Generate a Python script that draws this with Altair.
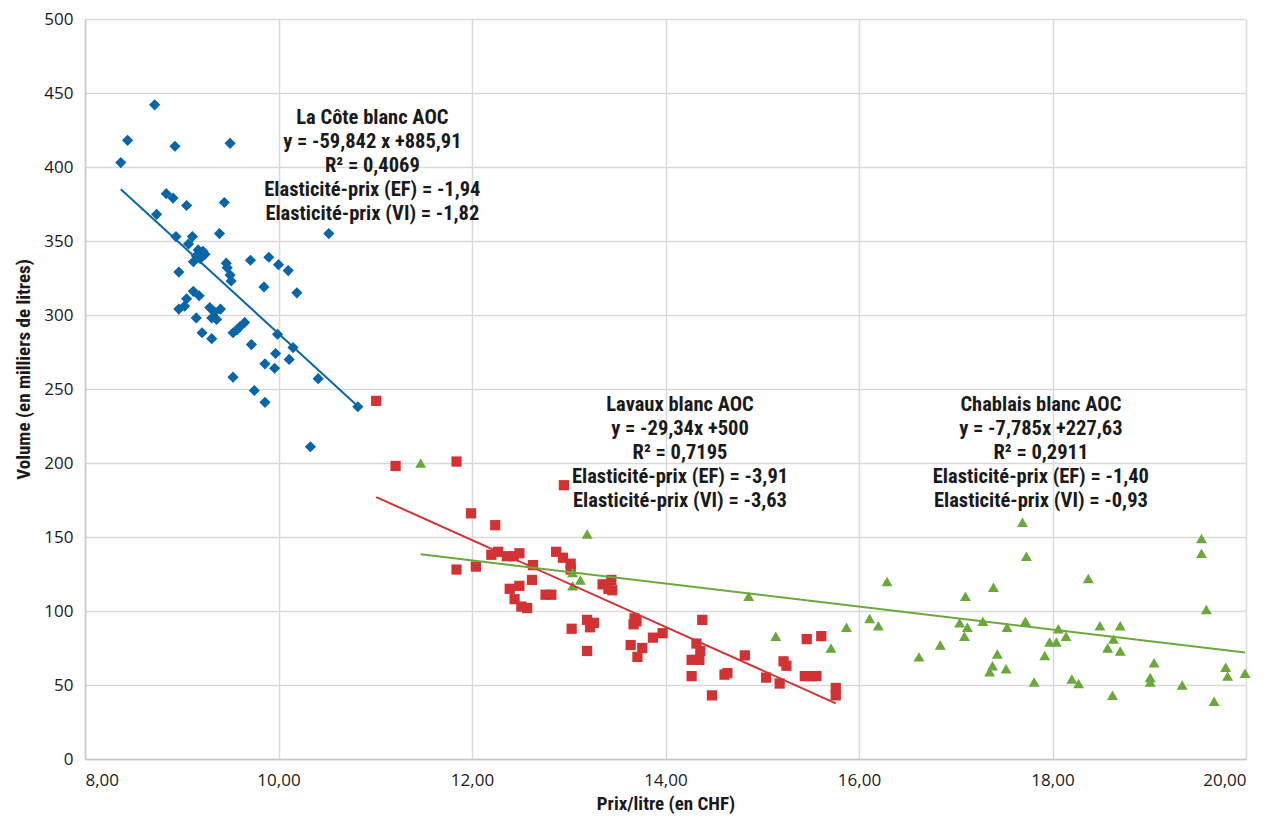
import altair as alt
import pandas as pd

# ---- data ----
cote_x = [8.37, 8.44, 8.72, 8.93, 9.50, 8.84, 8.91, 9.05, 9.44, 8.74, 8.94, 9.11, 9.07, 9.39, 10.52,
          9.15, 9.19, 9.22, 9.24, 9.12, 9.17, 9.46, 9.47, 9.50, 9.51, 9.71, 9.90, 10.00, 10.10, 8.97,
          10.19, 9.85, 9.12, 9.18, 9.05, 9.03, 8.97, 9.29, 9.40, 9.34, 9.31, 9.36, 9.15, 9.53, 9.57,
          9.60, 9.65, 9.21, 9.31, 9.99, 10.15, 9.72, 9.97, 10.11, 9.86, 9.96, 9.53, 10.41, 9.75, 9.86,
          10.82, 10.33]
cote_y = [403, 418, 442, 414, 416, 382, 379, 374, 376, 368, 353, 353, 348, 355, 355,
          340, 338, 343, 341, 336, 344, 335, 332, 327, 323, 337, 339, 334, 330, 329,
          315, 319, 316, 313, 311, 306, 304, 305, 304, 302, 298, 297, 298, 288, 290,
          292, 295, 288, 284, 287, 278, 280, 274, 270, 267, 264, 258, 257, 249, 241,
          238, 211]

lavaux_x = [11.01, 11.21, 11.84, 12.95, 11.99, 12.24, 11.84, 12.04, 12.20, 12.27, 12.36, 12.43, 12.49,
            12.63, 12.87, 12.94, 13.02, 13.02, 12.62, 12.49, 12.39, 12.44, 12.51, 12.57, 12.76, 12.82,
            13.35, 13.44, 13.41, 13.45, 13.19, 13.26, 13.22, 13.03, 13.68, 13.70, 13.67, 13.87, 13.64,
            13.76, 13.71, 13.19, 13.97, 14.38, 14.32, 14.36, 14.27, 14.35, 14.27, 14.48, 14.61, 14.64,
            14.82, 15.04, 15.18, 15.22, 15.25, 15.46, 15.61, 15.44, 15.51, 15.56, 15.76, 15.76]
lavaux_y = [242, 198, 201, 185, 166, 158, 128, 130, 138, 140, 137, 137, 139,
            131, 140, 136, 132, 128, 121, 117, 115, 108, 103, 102, 111, 111,
            118, 121, 115, 114, 94, 92, 89, 88, 95, 93, 91, 82, 77,
            75, 69, 73, 85, 94, 78, 73, 67, 67, 56, 43, 57, 58,
            70, 55, 51, 66, 63, 81, 83, 56, 56, 56, 48, 43]

chablais_x = [11.47, 13.19, 13.04, 13.12, 13.04, 14.86, 15.14, 15.71, 15.87, 16.11, 16.20, 16.29, 16.62,
              16.84, 17.10, 17.04, 17.12, 17.09, 17.28, 17.39, 17.69, 17.73, 17.72, 17.53, 17.43, 17.38,
              17.35, 17.52, 17.81, 17.92, 17.97, 18.04, 18.06, 18.14, 18.37, 18.49, 18.70, 18.63, 18.57,
              18.70, 18.20, 18.27, 18.62, 19.05, 19.01, 19.01, 19.34, 19.54, 19.54, 19.59, 19.67, 19.79,
              19.81, 19.99]
chablais_y = [200, 152, 126, 121, 117, 110, 83, 75, 89, 95, 90, 120, 69,
              77, 110, 92, 89, 83, 93, 116, 160, 137, 93, 89, 71, 63,
              59, 61, 52, 70, 79, 79, 88, 83, 122, 90, 90, 81, 75,
              73, 54, 51, 43, 65, 55, 52, 50, 149, 139, 101, 39, 62,
              56, 58]

series_names = ["La Côte blanc AOC", "Lavaux blanc AOC", "Chablais blanc AOC"]
series_colors = ["#0866A8", "#D23234", "#69A93A"]
series_shapes = ["diamond", "square", "triangle-up"]
series_sizes = [125, 105, 120]

# trend lines (equations printed on the chart) and their x extents
trend_slope = [-59.842, -29.34, -7.785]
trend_intercept = [885.91, 500.0, 227.63]
trend_x0 = [8.37, 11.01, 11.47]
trend_x1 = [10.82, 15.76, 19.99]

label_text = [
    "La Côte blanc AOC\ny = -59,842 x +885,91\nR² = 0,4069\nElasticité-prix (EF) = -1,94\nElasticité-prix (VI) = -1,82",
    "Lavaux blanc AOC\ny = -29,34x +500\nR² = 0,7195\nElasticité-prix (EF) = -3,91\nElasticité-prix (VI) = -3,63",
    "Chablais blanc AOC\ny = -7,785x +227,63\nR² = 0,2911\nElasticité-prix (EF) = -1,40\nElasticité-prix (VI) = -0,93",
]
label_x = [10.97, 14.15, 17.88]
label_y = [440, 246, 246]

x_ticks = [8, 10, 12, 14, 16, 18, 20]
y_ticks = [0, 50, 100, 150, 200, 250, 300, 350, 400, 450, 500]

FONT = "Liberation Sans Narrow, Roboto Condensed, Open Sans, sans-serif"
LABEL_FONT = "Open Sans, sans-serif"

# ---- tables ----
pts = pd.concat([
    pd.DataFrame({"x": cote_x, "y": cote_y, "s": series_names[0]}),
    pd.DataFrame({"x": lavaux_x, "y": lavaux_y, "s": series_names[1]}),
    pd.DataFrame({"x": chablais_x, "y": chablais_y, "s": series_names[2]}),
])
rows = []
for i, n in enumerate(series_names):
    for xv in (trend_x0[i], trend_x1[i]):
        rows.append({"x": xv, "y": trend_slope[i] * xv + trend_intercept[i], "s": n})
lines = pd.DataFrame(rows)
labels = pd.DataFrame({"x": label_x, "y": label_y, "t": label_text})

xs = alt.Scale(domain=[8, 20], nice=False, zero=False)
ys = alt.Scale(domain=[0, 500], nice=False)
cs = alt.Scale(domain=series_names, range=series_colors)

x_axis = alt.Axis(values=x_ticks, title="Prix/litre (en CHF)",
                  labelExpr="replace(format(datum.value, '.2f'), '.', ',')",
                  grid=True, ticks=False, labelPadding=13, titlePadding=6)
y_axis = alt.Axis(values=y_ticks, title="Volume (en milliers de litres)",
                  grid=True, ticks=False, labelPadding=12, titlePadding=10, titleY=350)

layers = []
for i, n in enumerate(series_names):
    layers.append(
        alt.Chart(pts).transform_filter(alt.datum.s == n)
        .mark_point(shape=series_shapes[i], filled=True, opacity=1,
                    size=series_sizes[i], color=series_colors[i])
        .encode(x=alt.X("x:Q", scale=xs, axis=x_axis), y=alt.Y("y:Q", scale=ys, axis=y_axis))
    )

trend = alt.Chart(lines).mark_line(strokeWidth=2).encode(
    x=alt.X("x:Q", scale=xs), y=alt.Y("y:Q", scale=ys),
    color=alt.Color("s:N", scale=cs, legend=None), detail="s:N")

text = alt.Chart(labels).mark_text(
    lineBreak="\n", lineHeight=24, baseline="top", align="center",
    font=FONT, fontSize=20.5, fontWeight="bold", color="#1a1a1a"
).encode(x=alt.X("x:Q", scale=xs), y=alt.Y("y:Q", scale=ys), text="t:N")

chart = alt.layer(*layers, trend, text).properties(
    width=1161, height=740,
    autosize=alt.AutoSizeParams(type="none"),
    padding={"left": 85, "top": 19, "right": 25, "bottom": 59},
).configure_view(stroke=None).configure_axis(
    gridColor="#d9d9d9", gridWidth=1.5, domainColor="#c8c8c8", domainWidth=1.5,
    labelFont=LABEL_FONT, labelFontSize=17, labelColor="#1a1a1a",
    titleFont=FONT, titleFontSize=19, titleFontWeight="bold", titleColor="#1a1a1a",
)

chart.save("out.html", embed_options={"renderer": "svg", "actions": False})
